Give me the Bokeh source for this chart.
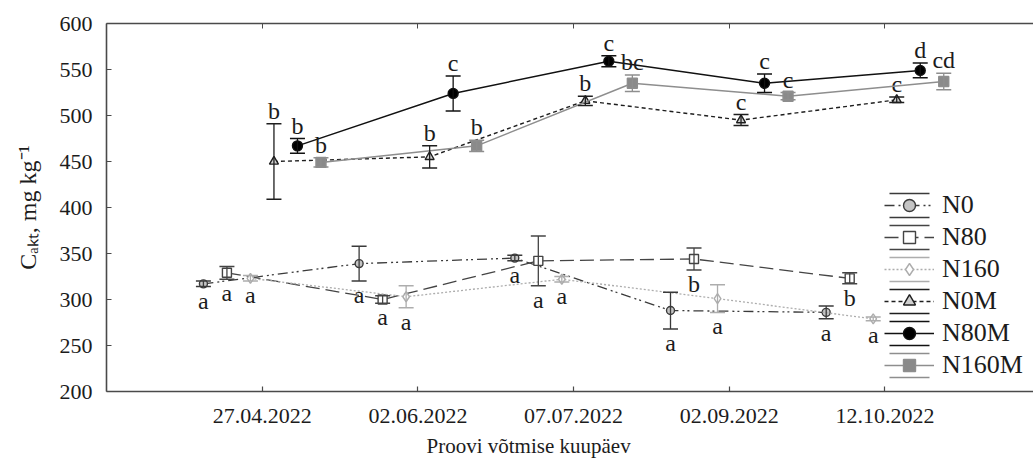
import numpy as np
from bokeh.plotting import figure
from bokeh.models import (ColumnDataSource, Range1d, LinearAxis, FixedTicker,
                          SingleIntervalTicker, Whisker, TeeHead, Legend,
                          LegendItem, Title)
from bokeh.core.properties import value
from bokeh.embed import file_html
from bokeh.resources import INLINE

# Sampling dates (categories on the x axis)
dates = ["27.04.2022", "02.06.2022", "07.07.2022", "02.09.2022", "12.10.2022"]
series = ["N0", "N80", "N160", "N0M", "N80M", "N160M"]

# Mean active carbon, mg kg-1
n0_mean = [317, 339, 345, 288, 286]
n80_mean = [329, 300, 342, 344, 323]
n160_mean = [323, 303, 322, 301, 279]
n0m_mean = [450, 455, 516, 495, 517]
n80m_mean = [467, 524, 559, 535, 549]
n160m_mean = [449, 467, 535, 521, 537]

# Error bar half-widths
n0_err = [3, 19, 3, 20, 7]
n80_err = [7, 4, 27, 12, 6]
n160_err = [3, 12, 3, 15, 2]
n0m_err = [41, 12, 5, 6, 3]
n80m_err = [8, 19, 6, 10, 8]
n160m_err = [5, 6, 9, 4, 9]

# Significance letters
n0_sig = ["a", "a", "a", "a", "a"]
n80_sig = ["a", "a", "a", "b", "b"]
n160_sig = ["a", "a", "a", "a", "a"]
n0m_sig = ["b", "b", "b", "c", "c"]
n80m_sig = ["b", "c", "c", "c", "d"]
n160m_sig = ["b", "b", "bc", "c", "cd"]

means = [n0_mean, n80_mean, n160_mean, n0m_mean, n80m_mean, n160m_mean]
errs = [n0_err, n80_err, n160_err, n0m_err, n80m_err, n160m_err]
sigs = [n0_sig, n80_sig, n160_sig, n0m_sig, n80m_sig, n160m_sig]

FONT = "Liberation Serif"
TXT = "#1c1c1c"
AX = "#4a4a4a"

styles = [
    dict(color="#3a3a3a", dash="10 4 2 3 2 4", marker="circle", fill="#c4c4c4", size=8, lw=1.3, above=False),
    dict(color="#444444", dash="14 6", marker="square", fill="#ffffff", size=9, lw=1.3, above=False),
    dict(color="#adadad", dash="2 2", marker="diamond", fill="#ffffff", size=10, lw=1.3, above=False),
    dict(color="#1e1e1e", dash="4 3", marker="triangle", fill="#d0d0d0", size=9, lw=1.4, above=True),
    dict(color="#111111", dash="solid", marker="circle", fill="#000000", size=10, lw=1.5, above=True),
    dict(color="#8e8e8e", dash="solid", marker="square", fill="#8a8a8a", size=10, lw=1.5, above=True),
]

x_pos = np.arange(1, len(dates) + 1)
step = 0.151
offsets = (np.arange(len(series)) - (len(series) - 1) / 2) * step

p = figure(width=1033, height=467, output_backend="svg", toolbar_location=None,
           x_range=Range1d(0, 5.954), y_range=Range1d(200, 600),
           min_border_left=106, min_border_right=0, min_border_top=23,
           min_border_bottom=76)
p.outline_line_color = None
p.grid.visible = False
p.background_fill_color = "white"
p.border_fill_color = "white"

# bottom axis with the sampling dates
xa = p.xaxis[0]
xa.ticker = FixedTicker(ticks=list(x_pos))
xa.major_label_overrides = {int(i): d for i, d in zip(x_pos, dates)}
ya = p.yaxis[0]
ya.ticker = SingleIntervalTicker(interval=50)
for ax in (xa, ya):
    ax.major_label_text_font = FONT
    ax.major_label_text_font_size = "22px"
    ax.major_label_text_color = TXT
    ax.major_tick_in = 5
    ax.major_tick_out = 0
    ax.minor_tick_line_color = None
    ax.axis_line_color = AX
    ax.axis_line_width = 1.6
    ax.major_tick_line_color = AX
    ax.major_tick_line_width = 1.2
xa.major_label_standoff = 17
ya.major_label_standoff = 10

ya.axis_label = "Cₐₖₜ, mg kg⁻¹"
ya.axis_label_text_font = FONT
ya.axis_label_text_font_size = "24px"
ya.axis_label_text_font_style = "normal"
ya.axis_label_text_color = TXT
ya.axis_label_standoff = 16

top = LinearAxis(ticker=FixedTicker(ticks=list(x_pos)), major_label_text_font_size="0px",
                 major_tick_in=5, major_tick_out=0, minor_tick_line_color=None,
                 axis_line_color=AX, axis_line_width=1.6, major_tick_line_color=AX)
top.major_label_text_color = None
p.add_layout(top, "above")

p.add_layout(Title(text="Proovi võtmise kuupäev", align="left", offset=320,
                   text_font=FONT, text_font_size="21px", text_font_style="normal",
                   text_color=TXT, standoff=13), "below")

items = []
for k, name in enumerate(series):
    st = styles[k]
    m = np.array(means[k], dtype=float)
    e = np.array(errs[k], dtype=float)
    src = ColumnDataSource(dict(x=x_pos + offsets[k], y=m, lo=m - e, hi=m + e,
                                lab=sigs[k]))
    # zero-size rect: only its dashed outline shows, as error caps in the legend
    cap = p.rect("x", "y", width=0, height=0, source=src, fill_alpha=0,
                 line_color=st["color"], line_width=1.5, line_dash="40 24")
    ln = p.line("x", "y", source=src, line_color=st["color"], line_width=st["lw"],
                line_dash=st["dash"])
    wh = Whisker(base="x", lower="lo", upper="hi", source=src, line_color=st["color"],
                 line_width=1.3, level="glyph",
                 upper_head=TeeHead(size=15, line_color=st["color"], line_width=1.5),
                 lower_head=TeeHead(size=15, line_color=st["color"], line_width=1.5))
    p.add_layout(wh)
    mk = p.scatter("x", "y", source=src, marker=st["marker"], size=st["size"],
                   fill_color=st["fill"], line_color=st["color"], line_width=1.4)
    if st["above"]:
        p.text("x", "hi", text="lab", source=src, text_font=value(FONT),
               text_font_size="24px", text_color=TXT, text_align="center",
               text_baseline="bottom", y_offset=0)
    else:
        p.text("x", "lo", text="lab", source=src, text_font=value(FONT),
               text_font_size="24px", text_color=TXT, text_align="center",
               text_baseline="top", y_offset=1)
    items.append(LegendItem(label=name, renderers=[cap, ln, mk]))

legend = Legend(items=items, location=(778, 11), glyph_width=50, glyph_height=30,
                label_height=30, spacing=2, padding=0, margin=0, label_standoff=8,
                label_text_font=FONT, label_text_font_size="26px",
                label_text_color=TXT, border_line_alpha=0, background_fill_alpha=0)
p.add_layout(legend)

open("out.html", "w").write(file_html(p, INLINE))
